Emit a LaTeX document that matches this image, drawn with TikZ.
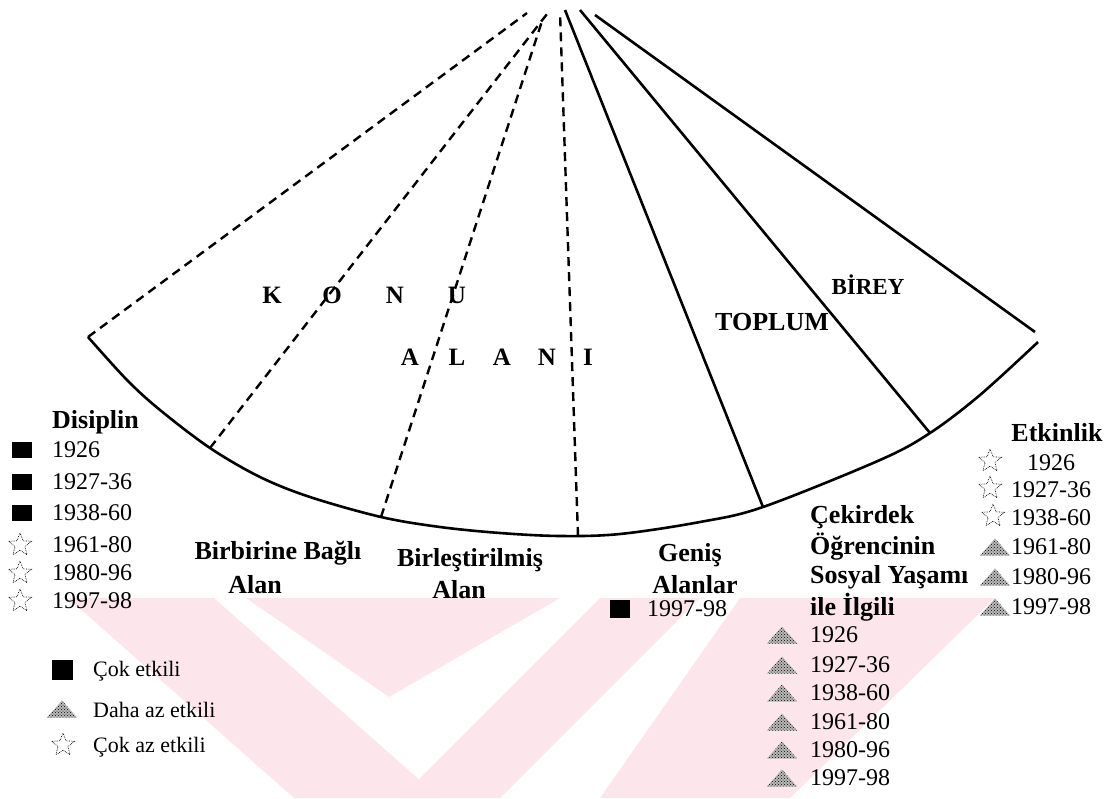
\documentclass[tikz,border=0pt]{standalone}
\usepackage{fontspec}
\setmainfont{Liberation Serif}
\usetikzlibrary{shapes.geometric,patterns}
\definecolor{wm}{RGB}{252,230,235}
\begin{document}
\begin{tikzpicture}[x=1pt,y=-1pt,
  fanline/.style={line width=2.6pt},
  dashline/.style={line width=2.4pt, dash pattern=on 9pt off 6pt},
  yr/.style={anchor=west, inner sep=0, font=\fontsize{24}{26}\selectfont},
  leg/.style={anchor=west, inner sep=0, font=\fontsize{22}{24}\selectfont},
  lbl/.style={inner sep=0, font=\bfseries\fontsize{26}{28}\selectfont},
  big/.style={inner sep=0, font=\bfseries\fontsize{25}{27}\selectfont},
  sqr/.style={fill=black, minimum width=20pt, minimum height=16pt, inner sep=0},
  tri/.style={minimum width=30pt, minimum height=17pt, inner sep=0,
    path picture={
      \fill[gray!55] (path picture bounding box.south west) -- (path picture bounding box.south east) -- (path picture bounding box.north) -- cycle;
      \fill[pattern=crosshatch dots, pattern color=black] (path picture bounding box.south west) -- (path picture bounding box.south east) -- (path picture bounding box.north) -- cycle;}},
  st/.style={star, star points=5, star point ratio=2.3, draw, line width=0.7pt, densely dotted, minimum size=24pt, inner sep=0},
]
\useasboundingbox (0,0) rectangle (1113,798);
% watermark (faint)
\fill[wm] (68,598) -- (214,598) -- (440,798) -- (294,798) -- cycle;
\fill[wm] (246,598) -- (560,598) -- (389,697) -- cycle;
\fill[wm] (600,598) -- (700,598) -- (500,798) -- (400,798) -- cycle;
\fill[wm] (740,598) -- (995,598) -- (790,798) -- (600,798) -- cycle;

% arc coordinates
\coordinate (a0) at (88,337);
\coordinate (a1) at (127,380);
\coordinate (a2) at (160,410);
\coordinate (a3) at (210,448);
\coordinate (a4) at (260,477);
\coordinate (a5) at (310,497);
\coordinate (a6) at (381,517);
\coordinate (a7) at (440,527);
\coordinate (a8) at (500,533);
\coordinate (a9) at (560,536);
\coordinate (a10) at (620,534);
\coordinate (a11) at (700,522);
\coordinate (a12) at (763,507);
\coordinate (a13) at (880,460);
\coordinate (a14) at (930,433);
\coordinate (a15) at (980,395);
\coordinate (a16) at (1038,342);
\coordinate (b4) at (578,536);
% top ends
\coordinate (t1) at (527,13);
\coordinate (t2) at (547,14);
\coordinate (t3) at (543,18);
\coordinate (t4) at (560,12);
\coordinate (t5) at (565,10);
\coordinate (t6) at (580,10);
\coordinate (t7) at (595,15);
\coordinate (e7) at (1035,332);

\draw[fanline, line join=round] plot[smooth, tension=0.55] coordinates {(a0) (a1) (a2) (a3) (a4) (a5) (a6) (a7) (a8) (a9) (a10) (a11) (a12) (a13) (a14) (a15) (a16)};
\draw[dashline] (a0) -- (t1);
\draw[dashline] (a3) -- (t2);
\draw[dashline] (a6) -- (t3);
\draw[dashline] (b4) -- (t4);
\draw[fanline] (a12) -- (t5);
\draw[fanline] (a14) -- (t6);
\draw[fanline] (e7) -- (t7);

% KONU ALANI
\node[big] (k1) at (272,295) {K};
\node[big] (k2) at (332,295) {O};
\node[big] (k3) at (395,295) {N};
\node[big] (k4) at (457,295) {U};
\node[big] (l1) at (410,357) {A};
\node[big] (l2) at (457,357) {L};
\node[big] (l3) at (502,357) {A};
\node[big] (l4) at (547,357) {N};
\node[big] (l5) at (588,357) {I};
\node[lbl] (toplum) at (772,322) {TOPLUM};
\node[big, font=\bfseries\fontsize{23}{25}\selectfont] (birey) at (868,285) {BİREY};

% area labels
\node[lbl] (bb1) at (278,553) {Birbirine Bağlı};
\node[lbl] (bb2) at (255,585) {Alan};
\node[lbl] (bl1) at (470,560) {Birleştirilmiş};
\node[lbl] (bl2) at (459,590) {Alan};
\node[lbl] (ge1) at (690,555) {Geniş};
\node[lbl] (ge2) at (695,585) {Alanlar};
\node[lbl, anchor=west] (ck1) at (810,517) {Çekirdek};
\node[lbl, anchor=west] (ck2) at (810,547) {Öğrencinin};
\node[lbl, anchor=west] (ck3) at (810,577) {Sosyal Yaşamı};
\node[lbl, anchor=west] (ck4) at (810,607) {ile İlgili};
\node[lbl, anchor=west] (dis) at (52,422) {Disiplin};
\node[lbl] (etk) at (1057,433) {Etkinlik};

% Disiplin list
\node[sqr] (ds1) at (22,450) {};  \node[yr] (dy1) at (52,450) {1926};
\node[sqr] (ds2) at (22,482) {};  \node[yr] (dy2) at (52,482) {1927-36};
\node[sqr] (ds3) at (22,513) {};  \node[yr] (dy3) at (52,513) {1938-60};
\node[st] (ds4) at (20,545) {};   \node[yr] (dy4) at (52,545) {1961-80};
\node[st] (ds5) at (20,573) {};   \node[yr] (dy5) at (52,573) {1980-96};
\node[st] (ds6) at (20,601) {};   \node[yr] (dy6) at (52,601) {1997-98};

% Genis list
\node[sqr, minimum height=18pt] (gs1) at (620,609) {}; \node[yr] (gy1) at (647,609) {1997-98};

% Cekirdek list
\node[tri] (cs1) at (782,635) {}; \node[yr] (cy1) at (810,635) {1926};
\node[tri] (cs2) at (782,665) {}; \node[yr] (cy2) at (810,665) {1927-36};
\node[tri] (cs3) at (782,693) {}; \node[yr] (cy3) at (810,693) {1938-60};
\node[tri] (cs4) at (782,722) {}; \node[yr] (cy4) at (810,722) {1961-80};
\node[tri] (cs5) at (782,750) {}; \node[yr] (cy5) at (810,750) {1980-96};
\node[tri] (cs6) at (782,778) {}; \node[yr] (cy6) at (810,778) {1997-98};

% Etkinlik list
\node[st] (es1) at (990,461) {}; \node[yr] (ey1) at (1027,463) {1926};
\node[st] (es2) at (990,488) {}; \node[yr] (ey2) at (1011,490) {1927-36};
\node[st] (es3) at (993,516) {}; \node[yr] (ey3) at (1011,518) {1938-60};
\node[tri] (es4) at (995,547) {}; \node[yr] (ey4) at (1011,547) {1961-80};
\node[tri] (es5) at (995,577) {}; \node[yr] (ey5) at (1011,577) {1980-96};
\node[tri] (es6) at (995,607) {}; \node[yr] (ey6) at (1011,607) {1997-98};

% legend
\node[sqr, minimum width=21pt, minimum height=20pt] (lg1) at (62,670) {}; \node[leg] (lt1) at (93,671) {Çok etkili};
\node[tri] (lg2) at (62,709) {}; \node[leg] (lt2) at (93,710) {Daha az etkili};
\node[st] (lg3) at (63,745) {}; \node[leg] (lt3) at (93,747) {Çok az etkili};
\end{tikzpicture}
\end{document}
